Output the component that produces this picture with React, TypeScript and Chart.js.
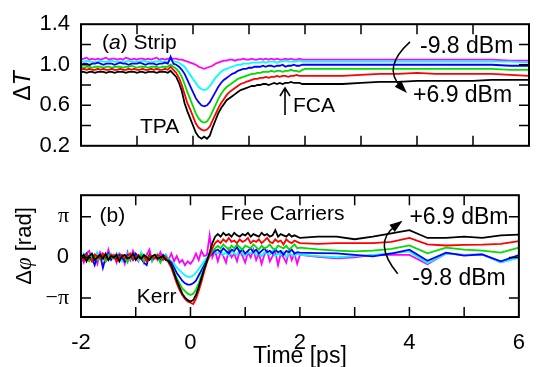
import React, { useEffect, useRef } from 'react';
import { Chart, registerables } from 'chart.js';

Chart.register(...registerables);

// ---------- data ----------
const timeDense = [
  -2, -1.95, -1.9, -1.85, -1.8, -1.75, -1.7, -1.65, -1.6, -1.55,
  -1.5, -1.45, -1.4, -1.35, -1.3, -1.25, -1.2, -1.15, -1.1, -1.05,
  -1, -0.95, -0.9, -0.85, -0.8, -0.75, -0.7, -0.65, -0.6, -0.55,
  -0.5, -0.45, -0.4, -0.35, -0.3, -0.25, -0.2, -0.15, -0.1, -0.05,
  0, 0.05, 0.1, 0.15, 0.2, 0.25, 0.3, 0.35, 0.4, 0.45,
  0.5, 0.55, 0.6, 0.65, 0.7, 0.75, 0.8, 0.85, 0.9, 0.95,
  1, 1.05, 1.1, 1.15, 1.2, 1.25, 1.3, 1.35, 1.4, 1.45,
  1.5, 1.55, 1.6, 1.65, 1.7, 1.75, 1.8, 1.85, 1.9, 1.95,
  2,
];
const timeSparse = [2.33, 2.67, 3, 3.33, 3.67, 4, 4.33, 4.67, 5, 5.33, 5.67, 6];
const time = [...timeDense, ...timeSparse];

// (a) transmission ΔT
const transBlack = [
  0.93, 0.93, 0.92, 0.93, 0.93, 0.92, 0.93, 0.93, 0.93, 0.92,
  0.93, 0.93, 0.92, 0.93, 0.93, 0.93, 0.92, 0.93, 0.93, 0.93,
  0.92, 0.93, 0.93, 0.92, 0.93, 0.93, 0.93, 0.92, 0.93, 0.93,
  0.93, 0.92, 0.94, 0.91, 0.88, 0.82, 0.74, 0.62, 0.54, 0.47,
  0.40, 0.33, 0.29, 0.27, 0.29, 0.27, 0.30, 0.38, 0.45, 0.52,
  0.57, 0.61, 0.65, 0.67, 0.69, 0.71, 0.73, 0.75, 0.76, 0.77,
  0.78, 0.79, 0.79, 0.80, 0.80, 0.81, 0.81, 0.80, 0.81, 0.82,
  0.81, 0.82, 0.81, 0.82, 0.82, 0.83, 0.82, 0.82, 0.82, 0.81,
  0.81,
  0.81, 0.81, 0.82, 0.83, 0.83, 0.84, 0.84, 0.84, 0.84, 0.85, 0.85, 0.85,
];
const transRed = [
  0.95, 0.96, 0.95, 0.96, 0.95, 0.95, 0.96, 0.95, 0.96, 0.95,
  0.95, 0.96, 0.95, 0.95, 0.96, 0.95, 0.95, 0.96, 0.95, 0.96,
  0.95, 0.95, 0.96, 0.95, 0.95, 0.96, 0.95, 0.96, 0.95, 0.95,
  0.96, 0.95, 0.98, 0.95, 0.92, 0.87, 0.80, 0.71, 0.62, 0.56,
  0.49, 0.42, 0.38, 0.36, 0.35, 0.36, 0.39, 0.45, 0.51, 0.57,
  0.62, 0.66, 0.70, 0.73, 0.75, 0.77, 0.79, 0.81, 0.82, 0.83,
  0.84, 0.85, 0.86, 0.86, 0.87, 0.87, 0.88, 0.87, 0.88, 0.88,
  0.89, 0.88, 0.89, 0.89, 0.88, 0.89, 0.89, 0.90, 0.89, 0.89,
  0.89,
  0.89, 0.89, 0.90, 0.91, 0.91, 0.92, 0.91, 0.91, 0.91, 0.91, 0.90, 0.89,
];
const transGreen = [
  0.98, 0.97, 0.98, 0.98, 0.97, 0.98, 0.98, 0.98, 0.97, 0.98,
  0.98, 0.97, 0.98, 0.98, 0.98, 0.97, 0.98, 0.98, 0.99, 0.98,
  0.97, 0.98, 0.98, 0.98, 0.97, 0.98, 0.98, 0.98, 0.97, 0.98,
  0.98, 0.98, 1.00, 0.98, 0.96, 0.93, 0.88, 0.81, 0.73, 0.66,
  0.59, 0.52, 0.47, 0.44, 0.43, 0.44, 0.48, 0.54, 0.60, 0.66,
  0.71, 0.75, 0.78, 0.80, 0.82, 0.84, 0.86, 0.87, 0.88, 0.89,
  0.90, 0.91, 0.91, 0.92, 0.92, 0.93, 0.93, 0.93, 0.94, 0.93,
  0.94, 0.94, 0.93, 0.94, 0.94, 0.95, 0.94, 0.94, 0.93, 0.95,
  0.96,
  0.96, 0.96, 0.96, 0.96, 0.96, 0.96, 0.96, 0.96, 0.96, 0.96, 0.95, 0.95,
];
const transBlue = [
  1.00, 1.01, 1.01, 1.00, 1.01, 1.01, 1.02, 1.01, 1.00, 1.01,
  1.01, 1.01, 1.00, 1.01, 1.02, 1.01, 1.01, 1.00, 1.01, 1.01,
  1.01, 1.02, 1.01, 1.00, 1.01, 1.01, 1.01, 1.00, 1.01, 1.01,
  1.02, 1.01, 1.08, 1.01, 1.00, 0.98, 0.95, 0.91, 0.85, 0.79,
  0.73, 0.67, 0.63, 0.60, 0.59, 0.60, 0.63, 0.68, 0.73, 0.78,
  0.82, 0.85, 0.87, 0.89, 0.91, 0.92, 0.94, 0.95, 0.96, 0.96,
  0.97, 0.97, 0.98, 0.98, 0.98, 0.99, 0.98, 0.99, 0.99, 0.98,
  0.99, 0.99, 1.00, 0.98, 0.99, 0.99, 1.00, 0.99, 0.99, 1.00,
  1.00,
  1.00, 1.00, 1.00, 1.00, 1.00, 1.00, 1.00, 1.00, 1.00, 1.00, 0.99, 0.99,
];
const transCyan = [
  1.03, 1.03, 1.04, 1.03, 1.03, 1.02, 1.03, 1.04, 1.03, 1.03,
  1.03, 1.04, 1.03, 1.03, 1.03, 1.02, 1.03, 1.04, 1.03, 1.03,
  1.03, 1.03, 1.04, 1.03, 1.03, 1.02, 1.03, 1.03, 1.04, 1.03,
  1.03, 1.03, 1.05, 1.03, 1.03, 1.02, 1.00, 0.98, 0.94, 0.90,
  0.86, 0.82, 0.78, 0.76, 0.75, 0.76, 0.79, 0.83, 0.87, 0.90,
  0.93, 0.95, 0.96, 0.97, 0.98, 0.99, 1.00, 1.00, 1.01, 1.01,
  1.01, 1.02, 1.02, 1.02, 1.02, 1.03, 1.02, 1.03, 1.03, 1.03,
  1.02, 1.03, 1.03, 1.04, 1.03, 1.03, 1.03, 1.03, 1.04, 1.03,
  1.03,
  1.03, 1.03, 1.03, 1.03, 1.03, 1.03, 1.03, 1.03, 1.03, 1.03, 1.03, 1.02,
];
const transMagenta = [
  1.05, 1.06, 1.07, 1.05, 1.06, 1.05, 1.06, 1.05, 1.06, 1.07,
  1.05, 1.06, 1.06, 1.05, 1.06, 1.05, 1.07, 1.06, 1.05, 1.06,
  1.05, 1.06, 1.06, 1.05, 1.06, 1.05, 1.06, 1.07, 1.05, 1.06,
  1.05, 1.06, 1.06, 1.06, 1.06, 1.05, 1.05, 1.04, 1.03, 1.02,
  1.01, 1.00, 0.98, 0.97, 0.96, 0.97, 0.98, 0.99, 1.01, 1.02,
  1.03, 1.04, 1.04, 1.05, 1.05, 1.04, 1.05, 1.05, 1.06, 1.05,
  1.05, 1.06, 1.05, 1.05, 1.06, 1.05, 1.06, 1.05, 1.06, 1.05,
  1.06, 1.05, 1.05, 1.06, 1.05, 1.06, 1.05, 1.05, 1.06, 1.05,
  1.05,
  1.05, 1.05, 1.05, 1.05, 1.05, 1.05, 1.05, 1.05, 1.05, 1.05, 1.04, 1.04,
];

// (b) phase Δφ [rad]
const phaseBlack = [
  0.0, 0.2, -0.3, 0.1, 0.3, -0.2, 0.0, 0.2, -0.1, 0.3,
  -0.2, 0.1, 0.0, 0.2, -0.3, 0.1, 0.2, -0.1, 0.0, 0.3,
  -0.2, 0.1, -0.1, 0.2, 0.0, -0.2, 0.1, 0.2, -0.1, 0.0,
  0.1, -0.2, -0.3, -0.6, -1.2, -1.8, -2.3, -2.8, -3.1, -3.3,
  -3.4, -3.3, -2.9, -2.3, -1.6, -0.9, -0.3, 0.4, 1.1, 1.6,
  1.8, 1.6, 1.9, 1.7, 1.8, 1.6, 1.9, 1.7, 1.6, 1.8,
  1.7, 1.9, 1.6, 1.8, 1.7, 1.6, 1.9, 1.7, 1.8, 1.6,
  1.7, 2.1, 1.6, 1.8, 1.7, 1.6, 1.8, 1.6, 1.7, 1.6,
  1.5,
  1.6, 1.6, 1.4, 1.6, 1.85, 2.1, 1.5, 1.5, 1.6, 1.5, 1.7, 1.75,
];
const phaseRed = [
  0.1, -0.2, 0.2, 0.0, -0.3, 0.2, 0.1, -0.1, 0.3, 0.0,
  -0.2, 0.2, 0.1, -0.3, 0.0, 0.2, -0.1, 0.1, 0.3, -0.2,
  0.0, 0.2, -0.1, 0.1, -0.3, 0.2, 0.0, -0.1, 0.2, 0.1,
  -0.2, 0.0, -0.4, -0.8, -1.4, -2.0, -2.5, -2.9, -3.2, -3.4,
  -3.5, -3.6, -3.2, -2.6, -1.9, -1.1, -0.4, 0.2, 0.7, 1.1,
  1.3, 1.1, 1.4, 1.2, 1.5, 1.2, 1.3, 1.1, 1.4, 1.2,
  1.3, 1.5, 1.1, 1.3, 1.2, 1.4, 1.1, 1.3, 1.5, 1.2,
  1.1, 1.4, 1.2, 1.3, 1.0, 1.4, 1.2, 1.1, 1.3, 1.2,
  1.1,
  1.05, 1.1, 1.1, 1.1, 1.2, 1.5, 1.0, 0.92, 0.97, 0.99, 1.05, 1.26,
];
const phaseGreen = [
  -0.1, 0.2, 0.0, -0.3, 0.1, 0.2, -0.2, 0.0, 0.1, -0.3,
  0.2, 0.0, -0.1, 0.3, -0.2, 0.1, 0.0, -0.4, 0.2, 0.1,
  -0.1, 0.0, 0.2, -0.3, 0.1, 0.0, -0.2, 0.2, 0.1, -0.4,
  0.0, 0.1, -0.3, -0.6, -1.1, -1.6, -2.0, -2.4, -2.6, -2.8,
  -2.9, -2.8, -2.5, -2.0, -1.4, -0.8, -0.3, 0.1, 0.5, 0.7,
  0.9, 0.7, 1.0, 0.8, 0.6, 0.9, 0.7, 1.0, 0.8, 0.6,
  0.9, 0.8, 0.7, 1.0, 0.8, 0.6, 0.9, 0.7, 0.8, 1.0,
  0.7, 0.6, 0.9, 0.8, 0.7, 0.9, 0.6, 0.8, 1.0, 0.7,
  0.75,
  0.62, 0.53, 0.46, 0.53, 0.65, 0.92, 0.31, 0.76, 0.6, 0.53, 0.37, 0.76,
];
const phaseBlue = [
  0.2, -0.1, 0.3, -0.2, 0.0, -0.6, 0.1, 0.2, -0.8, 0.0,
  0.3, -0.2, 0.1, -0.1, 0.2, 0.0, -0.3, 0.2, 0.1, -0.2,
  0.3, 0.0, -0.1, -0.4, -0.6, 0.2, -0.2, 0.0, 0.1, -0.3,
  0.2, 0.0, -0.2, -0.4, -0.8, -1.2, -1.5, -1.8, -2.0, -2.1,
  -2.1, -2.0, -1.8, -1.4, -1.0, -0.6, -0.2, 0.1, 0.3, 0.5,
  0.6, 0.4, 0.7, 0.5, 0.3, 0.6, 0.5, 0.8, 0.4, 0.6,
  0.3, 0.5, 0.7, 0.4, 0.6, 0.3, 0.5, 0.7, 0.4, 0.5,
  0.3, 0.6, 0.4, 0.5, 0.2, 0.5, 0.4, 0.6, 0.3, 0.4,
  0.37,
  0.33, 0.31, 0.2, 0.08, 0.3, 0.6, -0.26, 0.37, 0.14, 0.23, -0.31, 0.18,
];
const phaseCyan = [
  -0.2, 0.3, 0.0, 0.2, -0.3, 0.1, 0.4, -0.1, 0.0, 0.2,
  -0.2, 0.3, 0.0, -0.1, 0.2, -0.3, 0.1, 0.3, -0.1, 0.0,
  0.2, -0.2, 0.4, 0.0, -0.1, 0.2, -0.3, 0.1, 0.3, 0.0,
  -0.2, 0.2, -0.1, -0.3, -0.5, -0.8, -1.0, -1.2, -1.4, -1.5,
  -1.5, -1.4, -1.2, -0.9, -0.6, -0.3, 0.0, 0.2, 0.3, 0.4,
  0.3, 0.5, 0.2, 0.4, 0.1, 0.5, 0.3, 0.2, 0.6, 0.3,
  0.1, 0.4, 0.3, 0.5, 0.2, 0.3, 0.1, 0.4, 0.3, 0.2,
  0.5, 0.1, 0.3, 0.2, 0.4, 0.0, 0.3, 0.2, 0.1, 0.3,
  0.2,
  0.1, 0.01, 0.1, 0.19, 0.31, 0.46, -0.44, 0.31, 0.17, 0.23, -0.38, -0.03,
];
const phaseMagenta = [
  0.1, -0.4, 0.3, 0.5, -0.2, 0.2, -0.5, 0.4, 0.0, -0.3,
  0.6, -0.1, 0.2, -0.4, 0.3, 0.1, -0.5, 0.4, -0.2, 0.5,
  0.0, -0.3, 0.3, -0.4, 0.2, 0.6, -0.3, 0.1, -0.2, 0.4,
  -0.1, 0.2, -0.2, 0.3, -0.3, 0.1, -0.4, -0.2, -0.6, -0.3,
  -0.5, -0.2, 0.3, -0.2, 0.5, 0.1, 0.2, 1.7, 0.0, 0.5,
  -0.3, 0.4, 0.1, -0.4, 0.6, 0.0, 0.3, -0.3, 0.5, 0.1,
  -0.4, 0.4, 0.0, 0.6, -0.2, 0.3, -0.5, 0.2, 0.5, -0.3,
  0.1, 0.4, -0.6, 0.3, 0.0, -0.4, 0.5, -0.2, 0.3, -0.5,
  0.2,
  0.05, -0.08, 0.0, 0.19, 0.2, 0.19, -0.53, 0.31, 0.19, 0.23, -0.38, 0.0,
];

const seriesNames = ['+6.9 dBm', 'level 2', 'level 3', 'level 4', 'level 5', '-9.8 dBm'];
const seriesColors = ['#000000', '#ff0000', '#00dd00', '#0000ff', '#00ffff', '#ff00ff'];
const transSeries = [transBlack, transRed, transGreen, transBlue, transCyan, transMagenta];
const phaseSeries = [phaseBlack, phaseRed, phaseGreen, phaseBlue, phaseCyan, phaseMagenta];

const xTickLabels = [-2, 0, 2, 4, 6];
const xTickMarks = [-1, 0, 1, 2, 3, 4, 5];
const yTickLabelsA = [0.2, 0.6, 1.0, 1.4];
const yTickMarksA = [0.4, 0.6, 0.8, 1.0, 1.2];
const yTickLabelsB = [-Math.PI, 0, Math.PI];

// ---------- drawing helpers ----------
const SANS = '"Liberation Sans", Arial, sans-serif';
const SERIF = '"Liberation Serif", "Times New Roman", serif';
const sans = (s: number, st = '') => `${st} ${s}px ${SANS}`.trim();
const serif = (s: number, st = '') => `${st} ${s}px ${SERIF}`.trim();

type Seg = { t: string; f: string };

function richWidth(ctx: CanvasRenderingContext2D, segs: Seg[]) {
  let w = 0;
  for (const s of segs) { ctx.font = s.f; w += ctx.measureText(s.t).width; }
  return w;
}
function drawRich(ctx: CanvasRenderingContext2D, segs: Seg[], x: number, y: number) {
  ctx.textAlign = 'left';
  ctx.textBaseline = 'middle';
  let cx = x;
  for (const s of segs) {
    ctx.font = s.f;
    ctx.fillText(s.t, cx, y);
    cx += ctx.measureText(s.t).width;
  }
}

const overlayPlugin = {
  id: 'overlay',
  afterDraw(chart: any, _args: any, o: any) {
    const { ctx, chartArea: a } = chart;
    const xs = chart.scales.x, ys = chart.scales.y;
    const X = (v: number) => xs.getPixelForValue(v);
    const Y = (v: number) => ys.getPixelForValue(v);
    ctx.save();
    ctx.strokeStyle = '#000';
    ctx.fillStyle = '#000';
    // inward tick marks
    ctx.lineWidth = 1.5;
    ctx.beginPath();
    for (const t of o.xTicks) {
      const p = X(t);
      ctx.moveTo(p, a.top); ctx.lineTo(p, a.top + 10);
      ctx.moveTo(p, a.bottom); ctx.lineTo(p, a.bottom - 10);
    }
    for (const v of o.yTicks) {
      const p = Y(v);
      ctx.moveTo(a.left, p); ctx.lineTo(a.left + 10, p);
      ctx.moveTo(a.right, p); ctx.lineTo(a.right - 10, p);
    }
    ctx.stroke();
    // frame
    ctx.lineWidth = 2;
    ctx.strokeRect(a.left, a.top, a.right - a.left, a.bottom - a.top);
    // notes
    for (const n of o.notes) drawRich(ctx, n.segs, X(n.x), Y(n.y));
    // curved arrows
    for (const c of o.curves) {
      const p0 = [X(c.from[0]), Y(c.from[1])];
      const cp = [X(c.ctrl[0]), Y(c.ctrl[1])];
      const p2 = [X(c.to[0]), Y(c.to[1])];
      const ang = Math.atan2(p2[1] - cp[1], p2[0] - cp[0]);
      const L = 13, Wd = 4.5;
      const cs = Math.cos(ang), sn = Math.sin(ang);
      ctx.lineWidth = 1.5;
      ctx.beginPath();
      ctx.moveTo(p0[0], p0[1]);
      ctx.quadraticCurveTo(cp[0], cp[1], p2[0] - L * 0.7 * cs, p2[1] - L * 0.7 * sn);
      ctx.stroke();
      ctx.beginPath();
      ctx.moveTo(p2[0], p2[1]);
      ctx.lineTo(p2[0] - L * cs + Wd * sn, p2[1] - L * sn - Wd * cs);
      ctx.lineTo(p2[0] - L * cs - Wd * sn, p2[1] - L * sn + Wd * cs);
      ctx.closePath();
      ctx.fill();
    }
    // straight open arrows
    for (const s of o.arrows || []) {
      const x = X(s.x), y0 = Y(s.from), y1 = Y(s.to);
      ctx.lineWidth = 1.6;
      ctx.beginPath();
      ctx.moveTo(x, y0); ctx.lineTo(x, y1);
      ctx.moveTo(x - 5, y1 + 8); ctx.lineTo(x, y1); ctx.lineTo(x + 5, y1 + 8);
      ctx.stroke();
    }
    // rotated y title
    const t = o.yTitle;
    const w = richWidth(ctx, t.segs);
    ctx.translate(t.cx, t.cy);
    ctx.rotate(-Math.PI / 2);
    drawRich(ctx, t.segs, -w / 2, 0);
    ctx.restore();
  },
};

function makeDatasets(series: number[][]) {
  return series.map((vals, k) => ({
    label: seriesNames[k],
    data: time.map((t, i) => ({ x: t, y: vals[i] })),
    borderColor: seriesColors[k],
    backgroundColor: seriesColors[k],
    borderWidth: 1.8,
    pointRadius: 0,
    fill: false,
    tension: 0,
  }));
}

export default function App() {
  const refA = useRef<HTMLCanvasElement>(null);
  const refB = useRef<HTMLCanvasElement>(null);

  useEffect(() => {
    const tickFont = { family: SANS, size: 22 };
    const chartA = new Chart(refA.current as HTMLCanvasElement, {
      type: 'line',
      data: { datasets: makeDatasets(transSeries) as any },
      plugins: [overlayPlugin as any],
      options: {
        responsive: false,
        animation: false,
        devicePixelRatio: 1,
        layout: { padding: { top: 23, right: 9, bottom: 9, left: 0 } },
        plugins: {
          legend: { display: false },
          tooltip: { enabled: false },
          overlay: {
            xTicks: xTickMarks,
            yTicks: yTickMarksA,
            notes: [
              { segs: [{ t: '(', f: sans(21) }, { t: 'a', f: sans(21, 'italic') }, { t: ') Strip', f: sans(21) }], x: -1.625, y: 1.209 },
              { segs: [{ t: 'TPA', f: sans(21) }], x: -0.946, y: 0.383 },
              { segs: [{ t: 'FCA', f: sans(21) }], x: 1.786, y: 0.591 },
              { segs: [{ t: '-9.8 dBm', f: sans(23) }], x: 4.054, y: 1.174 },
              { segs: [{ t: '+6.9 dBm', f: sans(23) }], x: 3.929, y: 0.696 },
            ],
            curves: [{ from: [3.875, 1.226], ctrl: [3.375, 0.974], to: [3.821, 0.722] }],
            arrows: [{ x: 1.643, from: 0.504, to: 0.77 }],
            yTitle: { segs: [{ t: 'Δ', f: sans(23) }, { t: 'T', f: sans(23, 'italic') }], cx: 24, cy: 86 },
          },
        } as any,
        scales: {
          x: { type: 'linear', min: -2, max: 6, display: false },
          y: {
            type: 'linear', min: 0.2, max: 1.4,
            afterFit: (s: any) => { s.width = 81; },
            afterBuildTicks: (s: any) => { s.ticks = yTickLabelsA.map((v) => ({ value: v })); },
            grid: { display: false, drawTicks: false },
            border: { display: false },
            ticks: { padding: 11, color: '#000', font: tickFont, callback: (v: any) => Number(v).toFixed(1) },
          },
        },
      },
    });

    const chartB = new Chart(refB.current as HTMLCanvasElement, {
      type: 'line',
      data: { datasets: makeDatasets(phaseSeries) as any },
      plugins: [overlayPlugin as any],
      options: {
        responsive: false,
        animation: false,
        devicePixelRatio: 1,
        layout: { padding: { top: 9, right: 9, bottom: 0, left: 0 } },
        plugins: {
          legend: { display: false },
          tooltip: { enabled: false },
          overlay: {
            xTicks: xTickMarks,
            yTicks: yTickLabelsB,
            notes: [
              { segs: [{ t: '(b)', f: sans(21) }], x: -1.661, y: 3.166 },
              { segs: [{ t: 'Free Carriers', f: sans(21) }], x: 0.554, y: 3.37 },
              { segs: [{ t: 'Kerr', f: sans(21) }], x: -0.982, y: -3.1 },
              { segs: [{ t: '+6.9 dBm', f: sans(23) }], x: 4.0, y: 3.03 },
              { segs: [{ t: '-9.8 dBm', f: sans(23) }], x: 4.054, y: -1.67 },
            ],
            curves: [{ from: [3.786, -1.26], ctrl: [3.321, 1.12], to: [3.875, 2.83] }],
            arrows: [],
            yTitle: {
              segs: [{ t: 'Δ', f: sans(22) }, { t: 'φ', f: serif(23, 'italic') }, { t: ' [rad]', f: sans(22) }],
              cx: 25, cy: 76,
            },
          },
        } as any,
        scales: {
          x: {
            type: 'linear', min: -2, max: 6,
            afterFit: (s: any) => { s.height = 50; },
            afterBuildTicks: (s: any) => { s.ticks = xTickLabels.map((v) => ({ value: v })); },
            grid: { display: false, drawTicks: false },
            border: { display: false },
            ticks: { padding: 13, color: '#000', font: tickFont, maxRotation: 0, callback: (v: any) => String(v) },
            title: {
              display: true, text: 'Time [ps]', color: '#000',
              font: { family: SANS, size: 23, lineHeight: 1 },
              padding: { top: 0, bottom: -1 },
            },
          },
          y: {
            type: 'linear', min: -4.6, max: 4.8,
            afterFit: (s: any) => { s.width = 81; },
            afterBuildTicks: (s: any) => { s.ticks = yTickLabelsB.map((v) => ({ value: v })); },
            grid: { display: false, drawTicks: false },
            border: { display: false },
            ticks: {
              padding: 12, color: '#000',
              font: (c: any) => (c.tick && c.tick.value === 0 ? { family: SANS, size: 22 } : { family: SERIF, size: 22 }),
              callback: (v: any) => (Number(v) > 0.1 ? 'π' : Number(v) < -0.1 ? '−π' : '0'),
            },
          },
        },
      },
    });

    return () => { chartA.destroy(); chartB.destroy(); };
  }, []);

  return (
    <div style={{ position: 'fixed', left: 0, top: 0, width: 538, height: 367, background: '#fff', overflow: 'hidden' }}>
      <canvas ref={refA} width={538} height={170} style={{ position: 'absolute', left: 0, top: 0, display: 'block' }} />
      <canvas ref={refB} width={538} height={197} style={{ position: 'absolute', left: 0, top: 170, display: 'block' }} />
    </div>
  );
}
